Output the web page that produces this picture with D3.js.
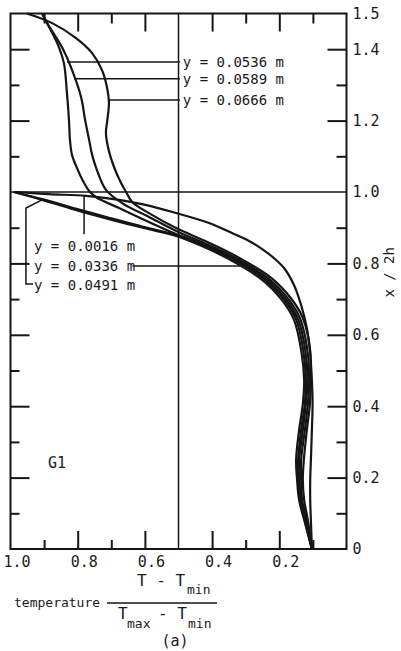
<!DOCTYPE html>
<html>
<head>
<meta charset="utf-8">
<script src="https://cdn.jsdelivr.net/npm/d3@7"></script>
<style>
  body { margin: 0; background: #fff; }
  svg text { font-family: "DejaVu Sans Mono", monospace; fill: #1a1a1a; }
</style>
</head>
<body>
<svg id="chart" width="401" height="651"></svg>
<script>
// each point is [temperature, x/2h]
const y0016 = [[0.984, 1.000], [0.885, 0.994], [0.775, 0.989], [0.677, 0.978], [0.609, 0.966], [0.507, 0.941],
  [0.409, 0.913], [0.341, 0.885], [0.290, 0.863], [0.251, 0.840], [0.216, 0.815], [0.186, 0.787], [0.156, 0.739],
  [0.135, 0.683], [0.118, 0.619], [0.109, 0.557], [0.103, 0.473], [0.101, 0.406], [0.103, 0.333], [0.106, 0.249],
  [0.108, 0.193], [0.108, 0.137], [0.106, 0.081], [0.103, 0.0]];
const y0336 = [[0.990, 1.000], [0.906, 0.980], [0.796, 0.951], [0.707, 0.928], [0.603, 0.902], [0.507, 0.880],
  [0.434, 0.854], [0.344, 0.814], [0.245, 0.756], [0.186, 0.699], [0.150, 0.643], [0.129, 0.559], [0.121, 0.473],
  [0.124, 0.406], [0.135, 0.333], [0.144, 0.249], [0.144, 0.193], [0.138, 0.137], [0.124, 0.081], [0.103, 0.0]];
const y0491 = [[0.990, 1.000], [0.906, 0.978], [0.796, 0.947], [0.707, 0.924], [0.603, 0.899], [0.507, 0.877],
  [0.439, 0.852], [0.350, 0.812], [0.251, 0.754], [0.192, 0.697], [0.156, 0.641], [0.135, 0.557], [0.126, 0.473],
  [0.130, 0.406], [0.141, 0.333], [0.150, 0.249], [0.147, 0.193], [0.141, 0.137], [0.126, 0.081], [0.103, 0.0]];
const y0536 = [[0.906, 1.500], [0.891, 1.473], [0.856, 1.406], [0.841, 1.361], [0.832, 1.277], [0.826, 1.202],
  [0.823, 1.146], [0.817, 1.104], [0.802, 1.067], [0.781, 1.025], [0.766, 1.003], [0.746, 0.986], [0.677, 0.955],
  [0.588, 0.916], [0.507, 0.882], [0.427, 0.854], [0.338, 0.814], [0.239, 0.756], [0.180, 0.699], [0.144, 0.643],
  [0.123, 0.559], [0.116, 0.473], [0.121, 0.406], [0.130, 0.333], [0.141, 0.249], [0.141, 0.193], [0.135, 0.137],
  [0.122, 0.081], [0.103, 0.0]];
const y0589 = [[0.906, 1.500], [0.891, 1.473], [0.847, 1.406], [0.817, 1.342], [0.790, 1.266], [0.778, 1.202],
  [0.766, 1.146], [0.757, 1.104], [0.743, 1.062], [0.716, 1.006], [0.668, 0.969], [0.588, 0.930], [0.507, 0.891],
  [0.421, 0.856], [0.332, 0.816], [0.233, 0.758], [0.174, 0.701], [0.138, 0.645], [0.117, 0.561], [0.111, 0.473],
  [0.115, 0.406], [0.124, 0.333], [0.135, 0.249], [0.135, 0.193], [0.132, 0.137], [0.118, 0.081], [0.103, 0.0]];
const y0666 = [[0.951, 1.500], [0.876, 1.473], [0.805, 1.431], [0.757, 1.389], [0.728, 1.342], [0.713, 1.294],
  [0.707, 1.250], [0.712, 1.200], [0.716, 1.165], [0.708, 1.118], [0.692, 1.070], [0.671, 1.025], [0.656, 1.000],
  [0.638, 0.972], [0.579, 0.936], [0.507, 0.899], [0.414, 0.860], [0.324, 0.818], [0.225, 0.760], [0.166, 0.703],
  [0.130, 0.647], [0.109, 0.563], [0.106, 0.473], [0.109, 0.406], [0.118, 0.333], [0.127, 0.249], [0.130, 0.193],
  [0.126, 0.137], [0.115, 0.081], [0.103, 0.0]];

const allSeries = [y0016, y0336, y0491, y0536, y0589, y0666];

// tick values
const xTickLabels = [1.0, 0.8, 0.6, 0.4, 0.2];
const yTickLabels = [1.5, 1.4, 1.2, 1.0, 0.8, 0.6, 0.4, 0.2, 0];
const tempMajor = [0.8, 0.6, 0.4, 0.2];
const tempMinor = [0.9, 0.7, 0.3, 0.1];
const hMajor = [1.4, 1.2, 0.8, 0.6, 0.4, 0.2];
const hMinor = [1.3, 1.1, 0.9, 0.7, 0.5, 0.3, 0.1];

// labels and their leader lines
const topLabels = ["y = 0.0536 m", "y = 0.0589 m", "y = 0.0666 m"];
const topLabelH = [1.364, 1.317, 1.258];
const topLeaderFrom = [0.832, 0.811, 0.707];
const lowLabels = ["y = 0.0016 m", "y = 0.0336 m", "y = 0.0491 m"];
const lowLabelH = [0.849, 0.793, 0.739];
const leader0016 = [[0.781, 0.989], [0.781, 0.882]];
const leader0336 = [[0.637, 0.793], [0.315, 0.793]];
const leader0491 = [[0.906, 0.978], [0.954, 0.955], [0.954, 0.742], [0.933, 0.742]];

const svg = d3.select("#chart");
const ink = "#151515";

const x = d3.scaleLinear().domain([1, 0]).range([10.5, 346.5]);
const y = d3.scaleLinear().domain([0, 1.5]).range([549, 13.5]);

const plotL = x(1), plotR = x(0), plotT = y(1.5), plotB = y(0);

// frame
svg.append("rect")
    .attr("x", plotL).attr("y", plotT)
    .attr("width", plotR - plotL).attr("height", plotB - plotT)
    .attr("fill", "none").attr("stroke", ink).attr("stroke-width", 2);

// reference lines at T = 0.5 and x/2h = 1.0
svg.append("line")
    .attr("x1", x(0.5)).attr("x2", x(0.5)).attr("y1", plotT).attr("y2", plotB)
    .attr("stroke", ink).attr("stroke-width", 1.5);
svg.append("line")
    .attr("x1", plotL).attr("x2", plotR).attr("y1", y(1.0)).attr("y2", y(1.0))
    .attr("stroke", ink).attr("stroke-width", 1.5);

function ticks(axis, transform) {
    svg.append("g")
        .attr("transform", transform)
        .call(axis.tickFormat(""))
        .call(g => g.select(".domain").remove())
        .attr("color", ink)
        .selectAll("line").attr("stroke-width", 2);
}

ticks(d3.axisTop(x).tickValues(tempMajor).tickSize(-18), `translate(0,${plotT})`);
ticks(d3.axisTop(x).tickValues(tempMinor).tickSize(-10), `translate(0,${plotT})`);
ticks(d3.axisBottom(x).tickValues(tempMajor).tickSize(-18), `translate(0,${plotB})`);
ticks(d3.axisBottom(x).tickValues(tempMinor).tickSize(-9), `translate(0,${plotB})`);
ticks(d3.axisLeft(y).tickValues(hMajor).tickSize(-19), `translate(${plotL},0)`);
ticks(d3.axisLeft(y).tickValues(hMinor).tickSize(-9), `translate(${plotL},0)`);
ticks(d3.axisRight(y).tickValues(hMajor).tickSize(-19), `translate(${plotR},0)`);
ticks(d3.axisRight(y).tickValues(hMinor).tickSize(-10), `translate(${plotR},0)`);

// tick labels
svg.append("g")
    .attr("transform", `translate(0,${plotB})`)
    .call(d3.axisBottom(x).tickValues(xTickLabels).tickSize(0).tickPadding(7).tickFormat(d3.format(".1f")))
    .call(g => g.select(".domain").remove())
    .style("font-size", "15px")
    .selectAll("text").attr("dx", 6);

svg.append("g")
    .attr("transform", `translate(${plotR},0)`)
    .call(d3.axisRight(y).tickValues(yTickLabels).tickSize(0).tickPadding(6)
        .tickFormat(d => d === 0 ? "0" : d3.format(".1f")(d)))
    .call(g => g.select(".domain").remove())
    .style("font-size", "15px");

svg.append("text")
    .attr("transform", `translate(394,${y(0.775)}) rotate(-90)`)
    .attr("text-anchor", "middle")
    .style("font-size", "14px")
    .text("x / 2h");

// curves
const line = d3.line()
    .x(d => x(d[0]))
    .y(d => y(d[1]))
    .curve(d3.curveCatmullRom.alpha(0.5));

svg.selectAll(".curve")
    .data(allSeries)
    .enter()
    .append("path")
    .attr("class", "curve")
    .attr("d", line)
    .attr("fill", "none")
    .attr("stroke", ink)
    .attr("stroke-width", 2.2);

// annotations, top group
const labelT = 0.487;
topLabels.forEach((t, i) => {
    svg.append("line")
        .attr("x1", x(topLeaderFrom[i])).attr("x2", x(labelT) - 3)
        .attr("y1", y(topLabelH[i])).attr("y2", y(topLabelH[i]))
        .attr("stroke", ink).attr("stroke-width", 1.5);
    svg.append("text")
        .attr("x", x(labelT)).attr("y", y(topLabelH[i]))
        .attr("dy", "0.35em")
        .style("font-size", "14px")
        .text(t);
});

// annotations, lower group
lowLabels.forEach((t, i) => {
    svg.append("text")
        .attr("x", x(0.930)).attr("y", y(lowLabelH[i]))
        .attr("dy", "0.35em")
        .style("font-size", "14px")
        .text(t);
});

const leaderLine = d3.line().x(d => x(d[0])).y(d => y(d[1]));
[leader0016, leader0336, leader0491].forEach(l => {
    svg.append("path")
        .attr("d", leaderLine(l))
        .attr("fill", "none").attr("stroke", ink).attr("stroke-width", 1.5);
});

svg.append("text")
    .attr("x", 48).attr("y", 468)
    .style("font-size", "15px")
    .text("G1");

// axis title as a fraction
const title = svg.append("g").style("font-size", "16px");
title.append("text").attr("x", 14).attr("y", 607).style("font-size", "13px").text("temperature");
title.append("text").attr("x", 137).attr("y", 586).text("T - T");
title.append("text").attr("x", 187).attr("y", 594).style("font-size", "13px").text("min");
title.append("line")
    .attr("x1", 107).attr("x2", 217).attr("y1", 603).attr("y2", 603)
    .attr("stroke", ink).attr("stroke-width", 1.5);
title.append("text").attr("x", 118).attr("y", 619).text("T");
title.append("text").attr("x", 127).attr("y", 628).style("font-size", "13px").text("max");
title.append("text").attr("x", 158).attr("y", 619).text("- T");
title.append("text").attr("x", 188).attr("y", 628).style("font-size", "13px").text("min");
title.append("text").attr("x", 175).attr("y", 646).attr("text-anchor", "middle").style("font-size", "15px").text("(a)");
</script>
</body>
</html>
